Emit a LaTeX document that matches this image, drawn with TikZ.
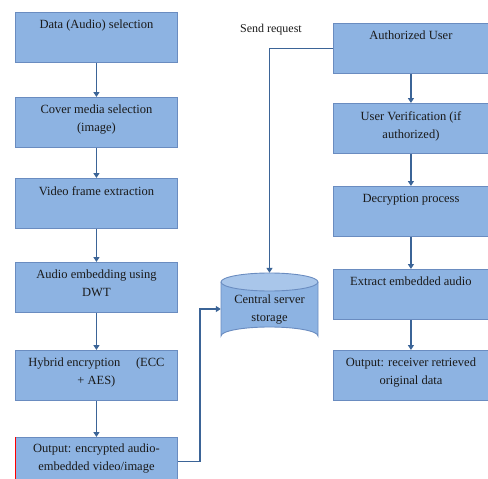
\documentclass[tikz,border=0pt]{standalone}
\usepackage{fontspec}
\setmainfont{Liberation Serif}
\usetikzlibrary{arrows.meta}
\definecolor{boxfill}{HTML}{8DB3E2}
\definecolor{boxline}{HTML}{6A8CC0}
\definecolor{arrowc}{HTML}{3B6497}
\definecolor{captop}{HTML}{A9C6EA}
\definecolor{txtc}{HTML}{1A1A1A}
\begin{document}
\begin{tikzpicture}[x=1pt,y=-1pt,
 box/.style={draw=boxline, fill=boxfill, line width=0.9pt, minimum width=162pt, minimum height=50pt, inner sep=0pt, anchor=north west},
 rbox/.style={box, minimum width=155pt},
 txt/.style={align=center, text=txtc, font=\fontsize{12.5}{18}\selectfont, inner sep=0pt, anchor=north},
 arr/.style={draw=arrowc, line width=1.6pt, -{Triangle[length=5pt,width=6pt]}}]
\useasboundingbox (0,0) rectangle (488,479);
% left column
\node[box] (b1) at (15,12) {};
\node[box] (b2) at (15,97) {};
\node[box] (b3) at (15,178) {};
\node[box] (b4) at (15,262) {};
\node[box] (b5) at (15,350) {};
\node[box, minimum height=52pt] (b6) at (15,437) {};
\draw[red, line width=1pt] (b6.north west) -- (b6.south west);
\node[txt] (t1) at ([yshift=-8pt]b1.north) {Data (Audio) selection};
\node[txt] (t2) at ([yshift=-8pt]b2.north) {Cover media selection\\(image)};
\node[txt] (t3) at ([yshift=-8pt]b3.north) {Video frame extraction};
\node[txt] (t4) at ([yshift=-8pt]b4.north) {Audio embedding using\\DWT};
\node[txt] (t5) at ([yshift=-8pt]b5.north) {Hybrid encryption \quad(ECC\\+ AES)};
\node[txt] (t6) at ([yshift=-7pt]b6.north) {Output: encrypted audio-\\embedded video/image};
% right column
\node[rbox] (r1) at (333,23) {};
\node[rbox] (r2) at (333,103) {};
\node[rbox] (r3) at (333,186) {};
\node[rbox] (r4) at (333,269) {};
\node[rbox] (r5) at (333,350) {};
\node[txt] (s1) at ([yshift=-8pt]r1.north) {Authorized User};
\node[txt] (s2) at ([yshift=-8pt]r2.north) {User Verification (if\\authorized)};
\node[txt] (s3) at ([yshift=-8pt]r3.north) {Decryption process};
\node[txt] (s4) at ([yshift=-8pt]r4.north) {Extract embedded audio};
\node[txt] (s5) at ([yshift=-8pt]r5.north) {Output: receiver retrieved\\original data};
% cylinder
\node[minimum width=97pt, minimum height=72pt, inner sep=0pt] (cyl) at (269.5,309) {};
\fill[boxfill] (221,282) -- (221,336) arc[start angle=180, end angle=360, x radius=48.5, y radius=9] -- (318,282) -- cycle;
\draw[boxline, line width=0.9pt] (221,282) -- (221,336) arc[start angle=180, end angle=360, x radius=48.5, y radius=9] -- (318,282);
\draw[boxline, fill=captop, line width=0.9pt] (269.5,282) ellipse[x radius=48.5, y radius=9];
\node[txt] (ct) at (269.5,295) {Central server\\storage};
% label
\node[font=\fontsize{12}{14}\selectfont, text=txtc, inner sep=0pt] (sr) at (271,30) {Send request};
% arrows
\draw[arr] (b1.south) -- (b2.north);
\draw[arr] (b2.south) -- (b3.north);
\draw[arr] (b3.south) -- (b4.north);
\draw[arr] (b4.south) -- (b5.north);
\draw[arr] (b5.south) -- (b6.north);
\draw[arr] (r1.south) -- (r2.north);
\draw[arr] (r2.south) -- (r3.north);
\draw[arr] (r3.south) -- (r4.north);
\draw[arr] (r4.south) -- (r5.north);
\draw[arr] ([yshift=2pt]b6.east) -- ++(22,0) |- (cyl.west);
\draw[arr] (r1.west) -| (cyl.north);
\end{tikzpicture}
\end{document}
